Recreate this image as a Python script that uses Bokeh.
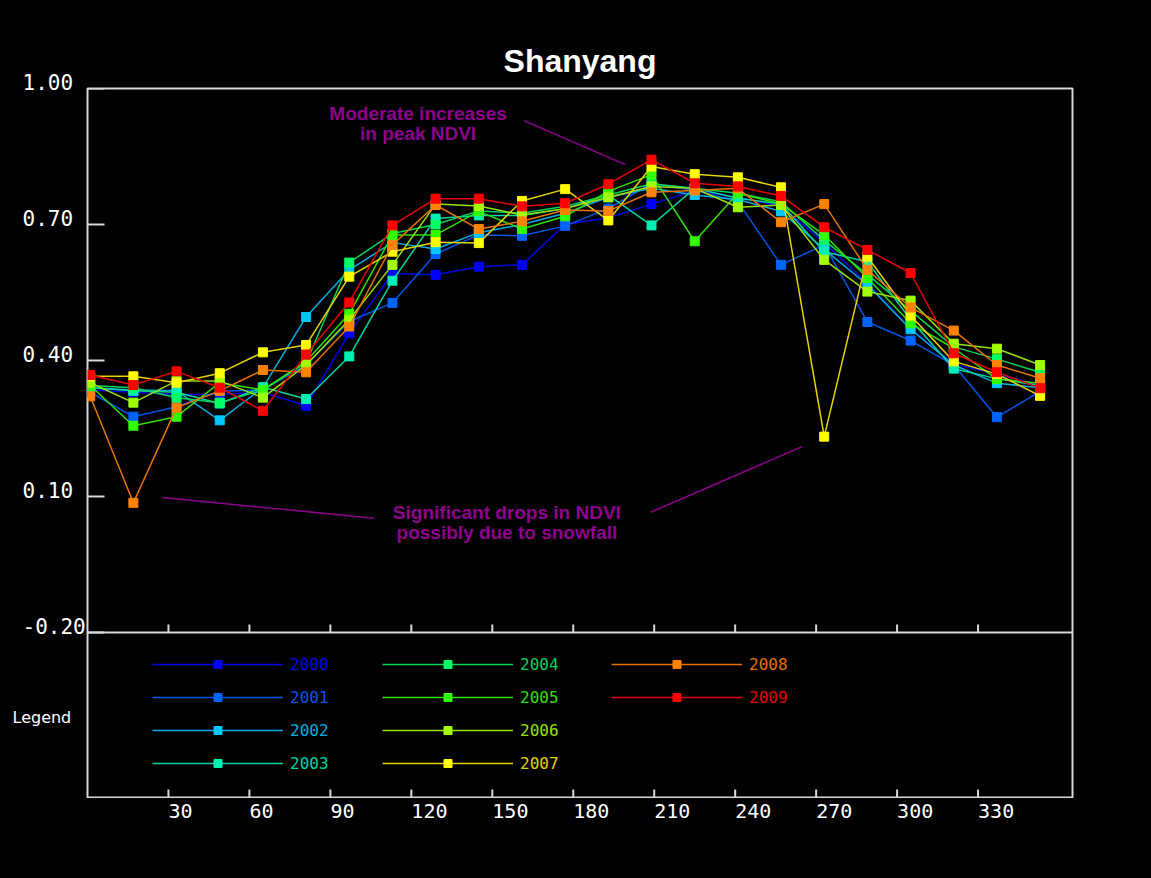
from math import pi

from bokeh.plotting import figure
from bokeh.layouts import row, column
from bokeh.models import Range1d, Span, Label, Legend, LegendItem
from bokeh.core.properties import value
from bokeh.embed import file_html
from bokeh.resources import INLINE

# 16-day composite start days (day of year)
days = [1, 17, 33, 49, 65, 81, 97, 113, 129, 145, 161, 177,
        193, 209, 225, 241, 257, 273, 289, 305, 321, 337, 353]

years = ["2000", "2001", "2002", "2003", "2004",
         "2005", "2006", "2007", "2008", "2009"]

ndvi_2000 = [0.335, 0.330, 0.325, 0.325, 0.330, 0.300, 0.460, 0.592, 0.589, 0.607, 0.611, 0.700,
             0.715, 0.745, 0.775, 0.760, 0.740, 0.660, 0.570, 0.470, 0.392, 0.370, 0.345]
ndvi_2001 = [0.330, 0.276, 0.298, 0.332, 0.335, 0.390, 0.486, 0.527, 0.635, 0.677, 0.675, 0.697,
             0.735, 0.791, 0.775, 0.750, 0.611, 0.655, 0.485, 0.444, 0.390, 0.275, 0.332]
ndvi_2002 = [0.340, 0.335, 0.333, 0.268, 0.340, 0.496, 0.600, 0.660, 0.646, 0.682, 0.700, 0.725,
             0.760, 0.780, 0.765, 0.755, 0.729, 0.645, 0.567, 0.469, 0.390, 0.350, 0.340]
ndvi_2003 = [0.340, 0.333, 0.330, 0.305, 0.341, 0.315, 0.409, 0.576, 0.713, 0.720, 0.720, 0.735,
             0.765, 0.698, 0.780, 0.758, 0.745, 0.640, 0.618, 0.490, 0.382, 0.360, 0.345]
ndvi_2004 = [0.345, 0.340, 0.318, 0.307, 0.335, 0.395, 0.616, 0.680, 0.700, 0.730, 0.725, 0.740,
             0.765, 0.790, 0.780, 0.769, 0.750, 0.665, 0.590, 0.510, 0.430, 0.403, 0.374]
ndvi_2005 = [0.345, 0.256, 0.276, 0.351, 0.335, 0.398, 0.503, 0.677, 0.677, 0.729, 0.690, 0.718,
             0.773, 0.810, 0.663, 0.769, 0.745, 0.677, 0.582, 0.482, 0.427, 0.359, 0.350]
ndvi_2006 = [0.351, 0.307, 0.355, 0.355, 0.318, 0.390, 0.490, 0.611, 0.745, 0.741, 0.721, 0.735,
             0.760, 0.784, 0.780, 0.738, 0.743, 0.622, 0.552, 0.532, 0.437, 0.426, 0.390]
ndvi_2007 = [0.365, 0.365, 0.351, 0.372, 0.418, 0.434, 0.585, 0.640, 0.661, 0.659, 0.752, 0.778,
             0.709, 0.828, 0.811, 0.804, 0.782, 0.232, 0.629, 0.499, 0.398, 0.370, 0.322]
ndvi_2008 = [0.321, 0.086, 0.296, 0.333, 0.379, 0.374, 0.475, 0.655, 0.743, 0.690, 0.707, 0.732,
             0.730, 0.771, 0.775, 0.780, 0.705, 0.745, 0.600, 0.517, 0.466, 0.390, 0.361]
ndvi_2009 = [0.368, 0.346, 0.376, 0.340, 0.289, 0.413, 0.528, 0.698, 0.757, 0.757, 0.740, 0.747,
             0.789, 0.843, 0.791, 0.784, 0.763, 0.694, 0.644, 0.593, 0.416, 0.374, 0.339]

series = [ndvi_2000, ndvi_2001, ndvi_2002, ndvi_2003, ndvi_2004,
          ndvi_2005, ndvi_2006, ndvi_2007, ndvi_2008, ndvi_2009]

marker_colors = ["#0000ff", "#0064ff", "#00c8ff", "#00f0b4", "#00ff64",
                 "#32ff00", "#a0ff00", "#ffff00", "#ff8200", "#ff0000"]
line_colors = ["#0000e6", "#0055e6", "#00aee0", "#00d4a0", "#00d45a",
               "#2ee000", "#98e000", "#e6d200", "#e67300", "#e60000"]

x_ticks = [30, 60, 90, 120, 150, 180, 210, 240, 270, 300, 330]
x_tick_labels = ["30", "60", "90", "120", "150", "180", "210", "240", "270", "300", "330"]
y_ticks = [-0.2, 0.1, 0.4, 0.7, 1.0]
y_tick_labels = ["-0.20", "0.10", "0.40", "0.70", "1.00"]

FRAME = "#d8d8d8"
PURPLE = "#8f008f"
MONO = "DejaVu Sans Mono"
BLACK_BG = {"background-color": "black"}
X_LO, X_HI = 0, 365
Y_LO, Y_HI = -0.564, 1.0   # lower part of the frame holds the legend panel

SIDE_W, HEAD_H, FOOT_H = 86, 87, 80
FRAME_H = 709                      # data + legend panel height in pixels
PPU = FRAME_H / (Y_HI - Y_LO)      # pixels per NDVI unit


def bare(width, height, x_range, y_range, **borders):
    f = figure(width=width, height=height, x_range=x_range, y_range=y_range,
               output_backend="svg", toolbar_location=None,
               x_axis_location=None, y_axis_location=None,
               background_fill_color="black", border_fill_color="black",
               outline_line_color="black", outline_line_alpha=0,
               min_border_left=borders.get("left", 0), min_border_right=borders.get("right", 0),
               min_border_top=borders.get("top", 0), min_border_bottom=borders.get("bottom", 0),
               styles=BLACK_BG)
    f.grid.visible = False
    return f


# ---- title strip (its frame lines up with the data frame below)
head = bare(1065, HEAD_H, Range1d(X_LO, X_HI), Range1d(0, HEAD_H), left=1, right=79)
head.text(x=[(X_LO + X_HI) / 2], y=[27], text=["Shanyang"], text_align="center",
          text_baseline="middle", text_color="white", text_font=value("Liberation Sans"),
          text_font_style="bold", text_font_size="32px")

# ---- main data + legend panel
p = bare(1065, FRAME_H + 2, Range1d(X_LO, X_HI), Range1d(Y_LO, Y_HI),
         left=1, right=79, top=1, bottom=1)
p.outline_line_color = FRAME
p.outline_line_alpha = 1
p.outline_line_width = 2

# inward ticks on the left edge
p.ray(x=[X_LO] * len(y_ticks), y=y_ticks, length=17, angle=0, length_units="screen",
      line_color=FRAME, line_width=2)
# divider between the data panel and the legend panel, with its own ticks
p.add_layout(Span(location=y_ticks[0], dimension="width", line_color=FRAME, line_width=2))
p.ray(x=x_ticks, y=[y_ticks[0]] * len(x_ticks), length=8, angle=pi / 2,
      length_units="screen", line_color=FRAME, line_width=2)
p.ray(x=x_ticks, y=[Y_LO] * len(x_ticks), length=8, angle=pi / 2,
      length_units="screen", line_color=FRAME, line_width=2)

# yearly NDVI profiles
renderers = []
for vals, mc, lc in zip(series, marker_colors, line_colors):
    rl = p.line(days, vals, line_color=lc, line_width=1.5)
    rs = p.scatter(days, vals, marker="square", size=9, fill_color=mc, line_color=mc)
    renderers.append((rl, rs))

# legend panel: three columns of four entries, each label in its series colour
col_x = [65, 295, 524]
row_y = [123, 90, 57, 24]
for i, (year, lc) in enumerate(zip(years, line_colors)):
    c, r = divmod(i, 4)
    leg = Legend(items=[LegendItem(label=year, renderers=list(renderers[i]))],
                 location=(col_x[c], row_y[r]), padding=0, margin=0, spacing=0,
                 glyph_width=131, glyph_height=20, label_height=20, label_standoff=7,
                 border_line_color=None, background_fill_alpha=0,
                 label_text_color=lc, label_text_font=MONO, label_text_font_size="16px")
    p.add_layout(leg)

# callouts
p.segment(x0=[161.7, 27.7, 208.6], y0=[0.929, 0.098, 0.065],
          x1=[199.3, 106.1, 264.8], y1=[0.832, 0.052, 0.210],
          line_color=PURPLE, line_width=1.5)

notes = [("Moderate increases", 122.5, 0.944),
         ("in peak NDVI", 122.5, 0.900),
         ("Significant drops in NDVI", 155.4, 0.064),
         ("possibly due to snowfall", 155.4, 0.020)]
for txt, nx, ny in notes:
    p.add_layout(Label(x=nx, y=ny, text=txt, text_color=PURPLE, text_font="Liberation Sans",
                       text_font_style="bold", text_font_size="19px",
                       text_align="center", text_baseline="middle"))

# ---- x tick labels, starting at each tick
foot = bare(1065, FOOT_H, Range1d(X_LO, X_HI), Range1d(0, FOOT_H), left=1, right=79)
foot.text(x=x_ticks, y=[68] * len(x_ticks), text=x_tick_labels, text_align="left",
          text_baseline="middle", text_color="white", text_font=value(MONO),
          text_font_size="20px")

# ---- y tick labels and the legend caption (full-height strip sharing the NDVI scale)
side_range = Range1d(Y_LO - (FOOT_H + 1) / PPU, Y_HI + (HEAD_H + 1) / PPU)
side = bare(SIDE_W, HEAD_H + FRAME_H + 2 + FOOT_H, Range1d(0, SIDE_W), side_range)
side.text(x=[22] * len(y_ticks), y=[t + 6.5 / PPU for t in y_ticks], text=y_tick_labels,
          text_align="left", text_baseline="middle", text_color="white",
          text_font=value(MONO), text_font_size="21px")
side.text(x=[12], y=[-0.388], text=["Legend"], text_align="left", text_baseline="middle",
          text_color="white", text_font=value("DejaVu Sans"), text_font_size="16px")

layout = row(side, column(head, p, foot, spacing=0, styles=BLACK_BG),
             spacing=0, styles=BLACK_BG)

open("out.html", "w").write(file_html(layout, INLINE))
